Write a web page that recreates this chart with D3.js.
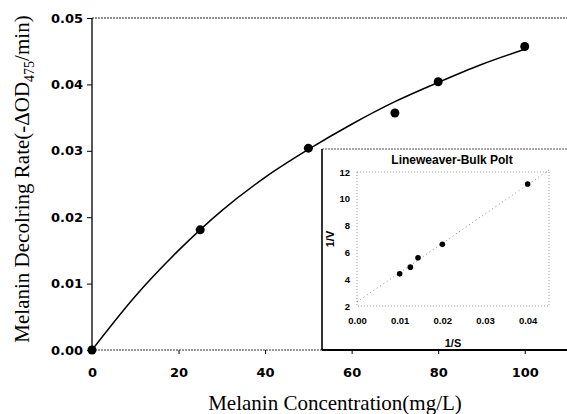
<!DOCTYPE html>
<html>
<head>
<meta charset="utf-8">
<script src="https://cdn.jsdelivr.net/npm/d3@7"></script>
<style>
  body { margin: 0; background: #fff; }
  svg { display: block; }
</style>
</head>
<body>
<div id="chart"></div>
<script>
// main plot: measured points
const concX = [0, 25, 50, 70, 80, 100];
const rateY = [0, 0.0181, 0.0304, 0.0357, 0.0404, 0.0457];

// fitted curve
const fitX = [0, 10, 20, 30, 40, 50, 60, 70, 80, 90, 100];
const fitY = [0, 0.0081, 0.0150, 0.0210, 0.0260, 0.0302, 0.0340, 0.0374, 0.0403, 0.0430, 0.0453];

const xTicks = [0, 20, 40, 60, 80, 100];
const yTicks = [0, 0.01, 0.02, 0.03, 0.04, 0.05];

// inset: Lineweaver-Burk
const invS = [0.01, 0.0125, 0.0143, 0.02, 0.04];
const invV = [4.4, 4.9, 5.6, 6.6, 11.1];
const lbLineX = [0, 0.045];
const lbLineY = [2.3, 12.15];
const insetXTicks = [0, 0.01, 0.02, 0.03, 0.04];
const insetYTicks = [2, 4, 6, 8, 10, 12];

const W = 567, H = 414;
const svg = d3.select('#chart').append('svg')
  .attr('width', W).attr('height', H);

const x = d3.scaleLinear().domain([0, 110]).range([92, 568]);
const y = d3.scaleLinear().domain([0, 0.05]).range([350, 18]);

const tickFont = '"DejaVu Sans", Arial, sans-serif';
const smallFont = '"Liberation Sans", Arial, sans-serif';
const serif = '"Liberation Serif", "Times New Roman", serif';

// frame top, dashed
svg.append('line')
  .attr('x1', x(0)).attr('x2', W).attr('y1', y(0.05)).attr('y2', y(0.05))
  .attr('stroke', '#222').attr('stroke-width', 1.2).attr('stroke-dasharray', '2,1');

// x axis
const xAxis = svg.append('g')
  .attr('transform', `translate(0,${y(0)})`)
  .call(d3.axisBottom(x).tickValues(xTicks).tickSize(4).tickPadding(14).tickFormat(d3.format('d')));
xAxis.select('.domain').remove();
xAxis.selectAll('.tick line').filter(d => d === 0).remove();
xAxis.append('line')
  .attr('x1', x(0)).attr('x2', W).attr('y1', 0).attr('y2', 0)
  .attr('stroke', '#333').attr('stroke-width', 1).attr('stroke-dasharray', '2,1');
xAxis.selectAll('text')
  .attr('font-family', tickFont).attr('font-weight', 'bold').attr('font-size', 13).attr('fill', '#000');
xAxis.selectAll('.tick line').attr('stroke', '#000');

// y axis
const yAxis = svg.append('g')
  .attr('transform', `translate(${x(0)},0)`)
  .call(d3.axisLeft(y).tickValues(yTicks).tickSize(5).tickPadding(4).tickFormat(d3.format('.2f')));
yAxis.select('.domain')
  .attr('d', `M0,${y(0.05)}V${y(0)}`)
  .attr('stroke', '#111').attr('stroke-width', 1.4);
yAxis.selectAll('text')
  .attr('font-family', tickFont).attr('font-weight', 'bold').attr('font-size', 13).attr('fill', '#000');

// fitted curve
svg.append('path')
  .datum(fitX.map((v, i) => [v, fitY[i]]))
  .attr('fill', 'none').attr('stroke', '#000').attr('stroke-width', 1.5)
  .attr('d', d3.line().x(d => x(d[0])).y(d => y(d[1])).curve(d3.curveMonotoneX));

// measured points
svg.selectAll('circle.pt')
  .data(concX.map((v, i) => [v, rateY[i]]))
  .join('circle')
  .attr('class', 'pt')
  .attr('cx', d => x(d[0])).attr('cy', d => y(d[1])).attr('r', 4.5)
  .attr('fill', '#000');

// axis titles
svg.append('text')
  .attr('x', 335).attr('y', 410)
  .attr('text-anchor', 'middle')
  .attr('font-family', serif).attr('font-size', 21)
  .text('Melanin Concentration(mg/L)');

const yt = svg.append('text')
  .attr('transform', 'translate(29,179) rotate(-90)')
  .attr('text-anchor', 'middle')
  .attr('font-family', serif).attr('font-size', 21);
yt.append('tspan').text('Melanin Decolring Rate(-ΔOD');
yt.append('tspan').attr('font-size', 14).attr('dy', 5).text('475');
yt.append('tspan').attr('dy', -5).text('/min)');

// ---- inset ----
const inset = svg.append('g');
inset.append('rect')
  .attr('x', 322).attr('y', 149).attr('width', W - 322).attr('height', 350 - 149)
  .attr('fill', '#fff').attr('stroke', 'none');
inset.append('line')
  .attr('x1', 322).attr('x2', W).attr('y1', 149).attr('y2', 149)
  .attr('stroke', '#555').attr('stroke-width', 1).attr('stroke-dasharray', '2,1');
inset.append('line')
  .attr('x1', 322).attr('x2', 322).attr('y1', 149).attr('y2', 350)
  .attr('stroke', '#000').attr('stroke-width', 1.6);
inset.append('line')
  .attr('x1', 322).attr('x2', W).attr('y1', 350).attr('y2', 350)
  .attr('stroke', '#000').attr('stroke-width', 1.8);

const ix = d3.scaleLinear().domain([0, 0.045]).range([357, 549]);
const iy = d3.scaleLinear().domain([2, 12]).range([306, 172]);

inset.append('text')
  .attr('x', 452).attr('y', 164)
  .attr('text-anchor', 'middle')
  .attr('font-family', smallFont).attr('font-weight', 'bold').attr('font-size', 12)
  .text('Lineweaver-Bulk Polt');

// dotted inner frame
inset.append('rect')
  .attr('x', ix(0)).attr('y', iy(12))
  .attr('width', ix(0.045) - ix(0)).attr('height', iy(2) - iy(12))
  .attr('fill', 'none').attr('stroke', '#888').attr('stroke-width', 0.8)
  .attr('stroke-dasharray', '1,2');

const ixAxis = inset.append('g')
  .attr('transform', `translate(0,${iy(2)})`)
  .call(d3.axisBottom(ix).tickValues(insetXTicks).tickSize(0).tickPadding(11).tickFormat(d3.format('.2f')));
ixAxis.select('.domain').remove();
ixAxis.selectAll('text')
  .attr('font-family', smallFont).attr('font-weight', 'bold').attr('font-size', 9.5).attr('fill', '#000');

const iyAxis = inset.append('g')
  .attr('transform', `translate(${ix(0)},0)`)
  .call(d3.axisLeft(iy).tickValues(insetYTicks).tickSize(0).tickPadding(7).tickFormat(d3.format('d')));
iyAxis.select('.domain').remove();
iyAxis.selectAll('text')
  .attr('font-family', smallFont).attr('font-weight', 'bold').attr('font-size', 9.5).attr('fill', '#000');

inset.append('text')
  .attr('x', 453).attr('y', 347)
  .attr('text-anchor', 'middle')
  .attr('font-family', smallFont).attr('font-weight', 'bold').attr('font-size', 11)
  .text('1/S');

inset.append('text')
  .attr('transform', 'translate(334,239) rotate(-90)')
  .attr('text-anchor', 'middle')
  .attr('font-family', smallFont).attr('font-weight', 'bold').attr('font-size', 11)
  .text('1/V');

// regression line
inset.append('path')
  .datum(lbLineX.map((v, i) => [v, lbLineY[i]]))
  .attr('fill', 'none').attr('stroke', '#777').attr('stroke-width', 0.9)
  .attr('stroke-dasharray', '1,3')
  .attr('d', d3.line().x(d => ix(d[0])).y(d => iy(d[1])));

inset.selectAll('circle.ipt')
  .data(invS.map((v, i) => [v, invV[i]]))
  .join('circle')
  .attr('class', 'ipt')
  .attr('cx', d => ix(d[0])).attr('cy', d => iy(d[1])).attr('r', 2.8)
  .attr('fill', '#000');
</script>
</body>
</html>
